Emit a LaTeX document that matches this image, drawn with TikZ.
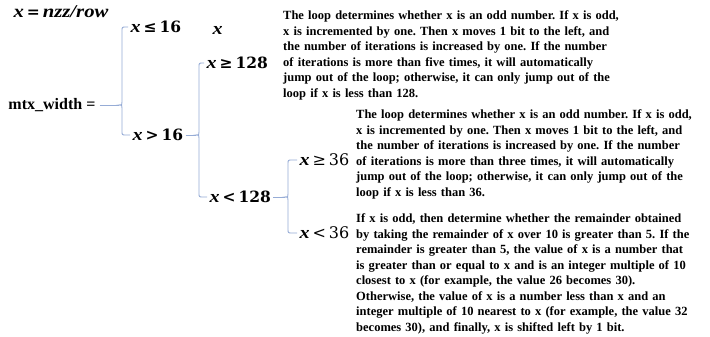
\documentclass[tikz,border=0pt]{standalone}
\usepackage{fontspec}
\setmainfont{Liberation Serif}
\newfontfamily\mfont{DejaVu Serif}
\newfontfamily\mitfont[FakeStretch=1.15]{Liberation Serif}
\usetikzlibrary{calc}
\definecolor{brc}{RGB}{150,172,214}
\tikzset{
  br/.style={draw=brc, line width=0.9pt},
  mth/.style={inner sep=0pt, outer sep=2.5pt, anchor=west, font=\mfont\bfseries\fontsize{15.5}{18}\selectfont},
  mthl/.style={mth, font=\mfont\fontsize{16}{18}\selectfont},
  lbl/.style={inner sep=0pt, outer sep=2.5pt, anchor=west, font=\bfseries\fontsize{16}{18}\selectfont},
  para/.style={inner sep=0pt, anchor=north west, font=\bfseries\fontsize{12.5}{15.5}\selectfont, align=left}
}
\newcommand\jline[1]{\hbox to\hsize{#1}}
\newcommand\vx{{\mitfont\bfseries\itshape\fontsize{17.5}{18}\selectfont x}}
\newcommand\rel[1]{\kern3pt{#1}\kern3pt}
\newcommand\orgbrace[4]{%
  \coordinate (#1v) at (#4,0);
  \draw[br] (#2.west) -- ($(#2.west -| #1v)+(4,0)$) .. controls (#2.west -| #1v) .. ($(#2.west -| #1v)+(0,4)$)
    -- ($(#1.east -| #1v)+(0,-3)$) .. controls (#1.east -| #1v) .. ($(#1.east -| #1v)+(-3,0)$)
    .. controls (#1.east -| #1v) .. ($(#1.east -| #1v)+(0,3)$)
    -- ($(#3.west -| #1v)+(0,-4)$) .. controls (#3.west -| #1v) .. ($(#3.west -| #1v)+(4,0)$) -- (#3.west);
  \draw[br] (#1.east) -- ($(#1.east -| #1v)+(-3,0)$);
}
\begin{document}
\frenchspacing
\begin{tikzpicture}[x=1pt,y=-1pt]
\useasboundingbox (0,0) rectangle (710,337);
\fill[white] (0,0) rectangle (710,337);

\node[mth, font=\mitfont\bfseries\itshape\fontsize{18}{20}\selectfont] (eq) at (11,12) {x\rel{\mfont\upshape\fontsize{15.5}{18}\selectfont =}nzz/row};
\node[lbl, outer sep=4.5pt] (mtx) at (4,105) {mtx\_width =};
\node[mth] (le16) at (128,27) {\vx\rel{≤}16};
\node[mth] (xv) at (210,30) {\vx};
\node[mth] (gt16) at (130,135) {\vx\rel{>}16};
\node[mth] (ge128) at (204,63) {\vx\rel{≥}128};
\node[mth] (lt128) at (207,197) {\vx\rel{<}128};
\node[mthl] (ge36) at (297,160) {\vx\rel{≥}36};
\node[mthl] (lt36) at (297,233) {\vx\rel{<}36};

\orgbrace{mtx}{le16}{gt16}{122}
\orgbrace{gt16}{ge128}{lt128}{199}
\orgbrace{lt128}{ge36}{lt36}{288}

\node[para, text width=330pt] (t1) at (283,10.5) {%
\jline{The loop determines whether x is an odd number. If x is odd,}
\jline{x is incremented by one. Then x moves 1 bit to the left, and}
\jline{the number of iterations is increased by one. If the number}
\jline{of iterations is more than five times, it will automatically}
\jline{jump out of the loop; otherwise, it can only jump out of the}
loop if x is less than 128.};

\node[para, text width=339pt] (t2) at (356,109.5) {%
\jline{The loop determines whether x is an odd number. If x is odd,}
\jline{x is incremented by one. Then x moves 1 bit to the left, and}
\jline{the number of iterations is increased by one. If the number}
\jline{of iterations is more than three times, it will automatically}
\jline{jump out of the loop; otherwise, it can only jump out of the}
loop if x is less than 36.};

\node[para, text width=327pt] (t3) at (356,213.5) {%
\jline{If x is odd, then determine whether the remainder obtained}
\jline{by taking the remainder of x over 10 is greater than 5. If the}
\jline{remainder is greater than 5, the value of x is a number that}
\jline{is greater than or equal to x and is an integer multiple of 10}
\jline{closest to x (for example, the value 26 becomes 30).}
\jline{Otherwise, the value of x is a number less than x and an}
\jline{integer multiple of 10 nearest to x (for example, the value 32}
becomes 30), and finally, x is shifted left by 1 bit.};
\end{tikzpicture}
\end{document}
